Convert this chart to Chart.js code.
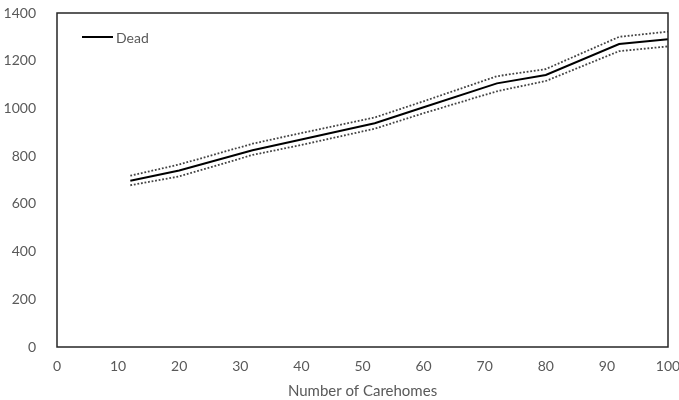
<!DOCTYPE html>
<html>
<head>
<meta charset="utf-8">
<script src="https://cdn.jsdelivr.net/npm/chart.js@4"></script>
<style>
    html, body { margin: 0; padding: 0; background: #fff; }
    #wrap { width: 679px; height: 400px; }
</style>
</head>
<body>
<div id="wrap"><canvas id="chart-dead"></canvas></div>
<script>
// number of carehomes on the x axis
const carehomes = [12, 20, 32, 40, 52, 60, 72, 80, 92, 100];
// mean deaths and the upper / lower band around it
const deadMean  = [697, 740, 825, 870, 938, 1005, 1105, 1140, 1270, 1290];
const deadUpper = [718, 765, 852, 897, 962, 1030, 1135, 1165, 1300, 1322];
const deadLower = [678, 715, 805, 847, 915, 980, 1072, 1115, 1240, 1260];
const yTicks = [0, 200, 400, 600, 800, 1000, 1200, 1400];
const xTicks = [0, 10, 20, 30, 40, 50, 60, 70, 80, 90, 100];

const labelFont = "Lato, 'Open Sans', sans-serif";
const grey = '#595959';

function points(values) {
    return carehomes.map((x, i) => ({ x: x, y: values[i] }));
}

// box around the plot area plus the in-plot legend
const frameAndLegend = {
    id: 'frameAndLegend',
    afterDraw(chart) {
        const ctx = chart.ctx;
        const a = chart.chartArea;
        ctx.save();
        ctx.strokeStyle = '#262626';
        ctx.lineWidth = 1.5;
        ctx.strokeRect(a.left, a.top, a.right - a.left, a.bottom - a.top);

        const lx = a.left + 25, ly = a.top + 24;
        ctx.strokeStyle = '#000';
        ctx.lineWidth = 2;
        ctx.beginPath();
        ctx.moveTo(lx, ly);
        ctx.lineTo(lx + 31, ly);
        ctx.stroke();
        ctx.fillStyle = grey;
        ctx.font = '14px ' + labelFont;
        ctx.textBaseline = 'middle';
        ctx.fillText('Dead', lx + 34, ly + 1);
        ctx.restore();
    }
};

const canvas = document.getElementById('chart-dead');

new Chart(canvas, {
    type: 'line',
    data: {
        datasets: [
            {
                label: 'Dead',
                data: points(deadMean),
                borderColor: '#000',
                borderWidth: 2,
                pointRadius: 0,
                tension: 0,
            },
            {
                label: 'Upper',
                data: points(deadUpper),
                borderColor: '#444',
                borderWidth: 1.8,
                borderDash: [1.8, 1.8],
                pointRadius: 0,
                tension: 0,
            },
            {
                label: 'Lower',
                data: points(deadLower),
                borderColor: '#444',
                borderWidth: 1.8,
                borderDash: [1.8, 1.8],
                pointRadius: 0,
                tension: 0,
            },
        ],
    },
    options: {
        responsive: true,
        maintainAspectRatio: false,
        animation: false,
        layout: {
            padding: { left: 0, top: 13, right: 11, bottom: 0 },
        },
        plugins: {
            legend: { display: false },
            tooltip: { enabled: false },
        },
        scales: {
            x: {
                type: 'linear',
                min: 0,
                max: 100,
                afterBuildTicks: scale => {
                    scale.ticks = xTicks.map(v => ({ value: v }));
                },
                afterFit: scale => {
                    scale.height = 53;
                    scale.paddingLeft = 0;
                    scale.paddingRight = 0;
                },
                grid: { display: false },
                border: { display: false },
                ticks: {
                    color: grey,
                    font: { family: labelFont, size: 14 },
                    padding: 3,
                    maxRotation: 0,
                    callback: v => String(v),
                },
                title: {
                    display: true,
                    text: 'Number of Carehomes',
                    color: grey,
                    font: { family: labelFont, size: 15 },
                    padding: { top: 5, bottom: 0 },
                },
            },
            y: {
                min: 0,
                max: 1400,
                afterBuildTicks: scale => {
                    scale.ticks = yTicks.map(v => ({ value: v }));
                },
                afterFit: scale => {
                    scale.width = 57;
                    scale.paddingTop = 0;
                    scale.paddingBottom = 0;
                },
                grid: { display: false },
                border: { display: false },
                ticks: {
                    color: grey,
                    font: { family: labelFont, size: 14 },
                    padding: 13,
                    callback: v => String(v),
                },
            },
        },
    },
    plugins: [frameAndLegend],
});
</script>
</body>
</html>
